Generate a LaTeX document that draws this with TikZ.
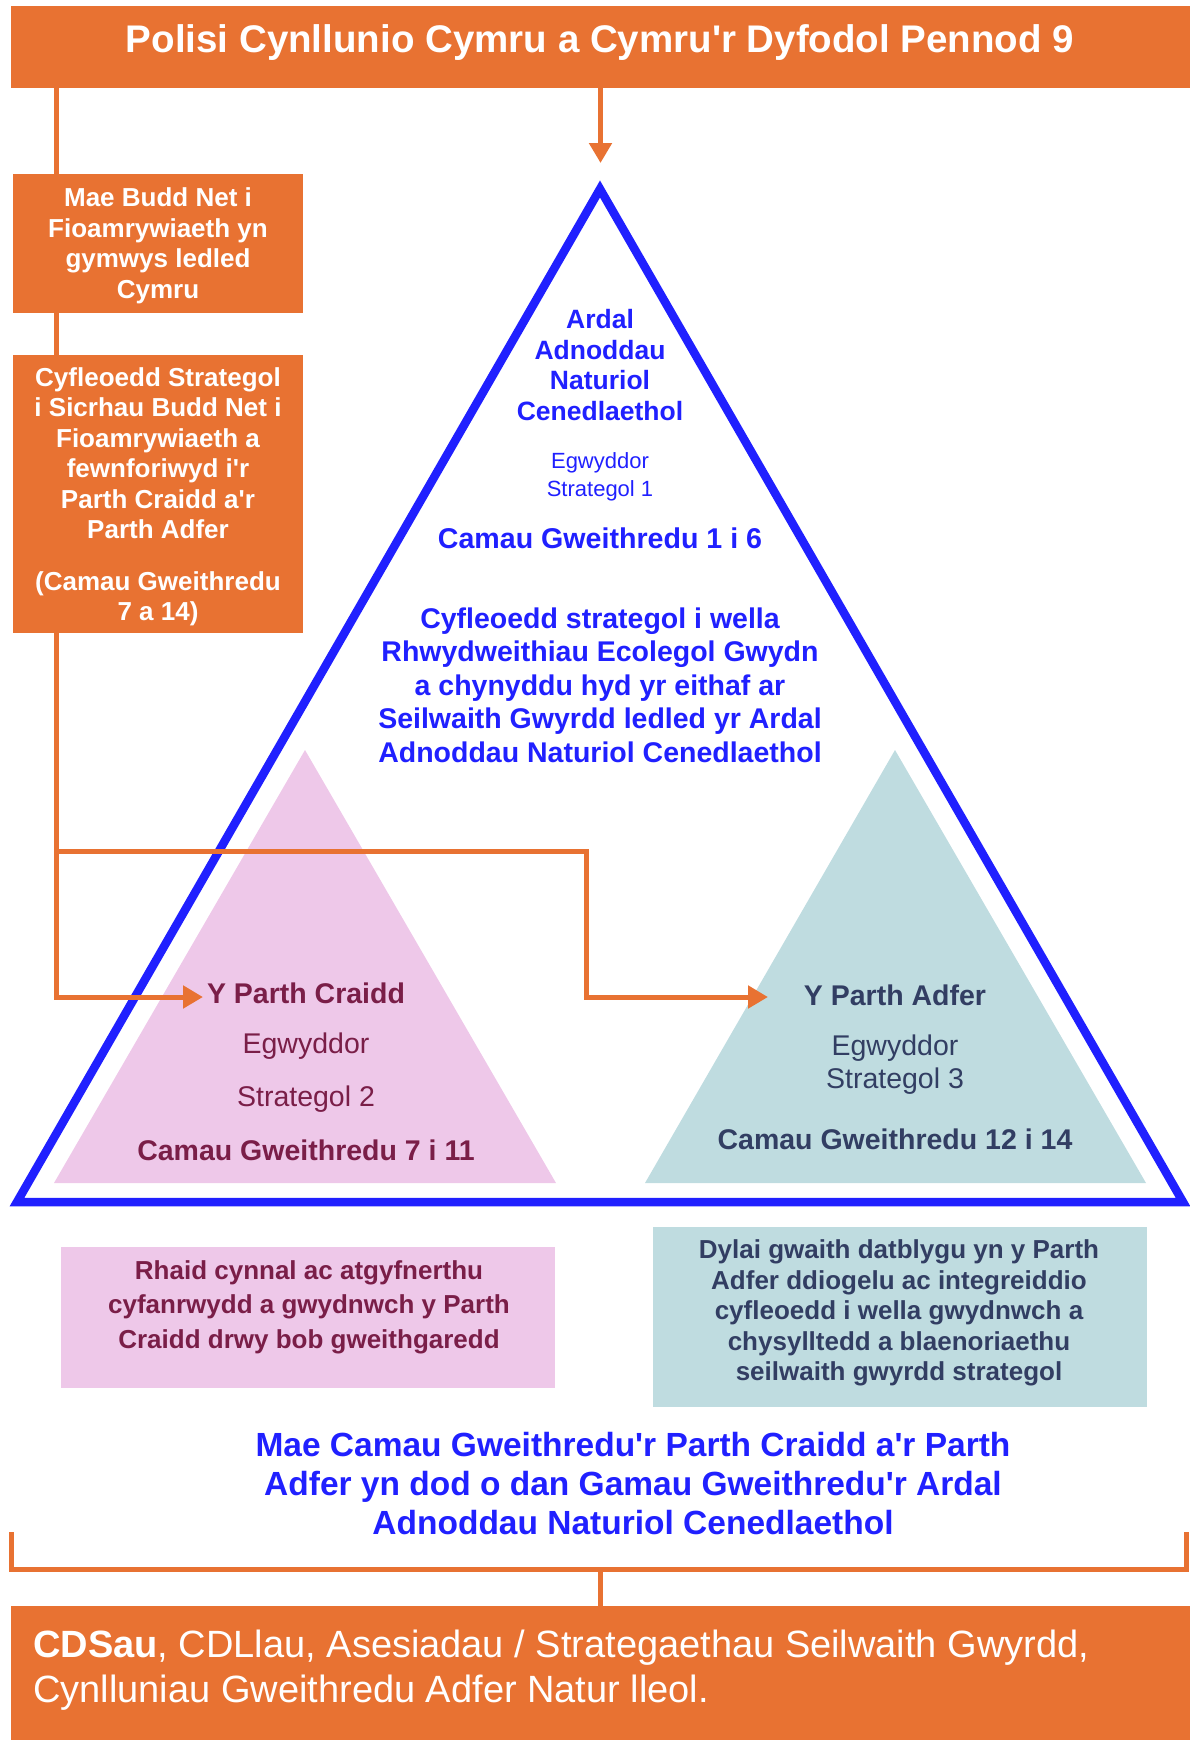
\documentclass[tikz,border=0pt]{standalone}
\usepackage{fontspec}
\setmainfont{Liberation Sans}
\usetikzlibrary{arrows.meta}
\definecolor{orng}{HTML}{E87232}
\definecolor{blu}{HTML}{2020FF}
\definecolor{pnk}{HTML}{EEC8E9}
\definecolor{tel}{HTML}{BFDCE0}
\definecolor{maroontxt}{HTML}{7A1E48}
\definecolor{slatetxt}{HTML}{323E63}
\newcommand{\ap}{\textquotesingle}
\begin{document}
\begin{tikzpicture}[x=1pt,y=-1pt,
  obox/.style={fill=orng, draw=none, inner sep=0pt},
  conn/.style={draw=orng, line width=5pt},
  arr/.style={conn, -{Triangle[length=20pt,width=22pt]}},
  wtxt/.style={text=white, align=center, inner sep=0pt, font=\bfseries\fontsize{26}{30.5}\selectfont},
  btxt/.style={text=blu, align=center, inner sep=0pt},
  ptxt/.style={text=maroontxt, align=center, inner sep=0pt},
  ttxt/.style={text=slatetxt, align=center, inner sep=0pt},
  bluetri/.style={draw=blu, line width=8.5pt, line join=miter}
]
\useasboundingbox (0,0) rectangle (1190,1740);

% big blue triangle
\coordinate (apex) at (600,189);
\coordinate (br) at (1183,1202);
\coordinate (bl) at (17,1202);
\draw[bluetri] (apex) -- (br) -- (bl) -- cycle;

% inner triangles
\coordinate (pA) at (305,750);
\coordinate (pL) at (54,1183);
\coordinate (pR) at (556,1183);
\fill[pnk] (pA) -- (pR) -- (pL) -- cycle;
\coordinate (tA) at (895,750);
\coordinate (tL) at (645,1183);
\coordinate (tR) at (1146,1183);
\fill[tel] (tA) -- (tR) -- (tL) -- cycle;

% top banner
\node[obox, minimum width=1179pt, minimum height=82pt] (top) at (600.5,47) {};
\node[text=white, inner sep=0pt, font=\bfseries\fontsize{38.5}{46}\selectfont] (toptxt) at (600,43) {Polisi Cynllunio Cymru a Cymru\ap r Dyfodol Pennod 9};

% connectors
\coordinate (apexTip) at (600.5,163);
\draw[arr] (top.south) -- (apexTip);
\coordinate (lstart) at (56,88);
\coordinate (cTip) at (203,997);
\draw[arr] (lstart) |- (cTip);
\coordinate (branch) at (56,851);
\coordinate (bend) at (586,997);
\coordinate (aTip) at (768,997);
\draw[arr] (branch) -| (bend) -- (aTip);

% left boxes
\node[obox, minimum width=290pt, minimum height=139pt] (box1) at (158,243.5) {};
\node[wtxt] (box1txt) at (158,246) {Mae Budd Net i\\Fioamrywiaeth yn\\gymwys ledled\\Cymru};
\node[obox, minimum width=290pt, minimum height=278pt] (box2) at (158,494) {};
\node[wtxt] (box2txt) at (158,497) {Cyfleoedd Strategol\\i Sicrhau Budd Net i\\Fioamrywiaeth a\\fewnforiwyd i\ap r\\Parth Craidd a\ap r\\Parth Adfer\\[21pt](Camau Gweithredu\\7 a 14)};

% text in big triangle
\node[btxt, font=\bfseries\fontsize{26.5}{30.7}\selectfont] (ardal) at (600,365) {Ardal\\Adnoddau\\Naturiol\\Cenedlaethol};
\node[btxt, font=\fontsize{22}{28}\selectfont] (egw1) at (600,477) {Egwyddor\\Strategol 1};
\node[btxt, font=\bfseries\fontsize{28.6}{33}\selectfont] (cam1) at (600,538) {Camau Gweithredu 1 i 6};
\node[btxt, font=\bfseries\fontsize{28.5}{33.5}\selectfont] (cyfle) at (600,685) {Cyfleoedd strategol i wella\\Rhwydweithiau Ecolegol Gwydn\\a chynyddu hyd yr eithaf ar\\Seilwaith Gwyrdd ledled yr Ardal\\Adnoddau Naturiol Cenedlaethol};

% pink triangle text
\node[ptxt, font=\bfseries\fontsize{28.5}{33}\selectfont] (pcraidd) at (306,993) {Y Parth Craidd};
\node[ptxt, font=\fontsize{28.5}{33}\selectfont] (pegw) at (306,1046) {Egwyddor};
\node[ptxt, font=\fontsize{28.5}{33}\selectfont] (pstrat) at (306,1099) {Strategol 2};
\node[ptxt, font=\bfseries\fontsize{28.5}{33}\selectfont] (pcam) at (306,1150) {Camau Gweithredu 7 i 11};

% teal triangle text
\node[ttxt, font=\bfseries\fontsize{28.5}{33}\selectfont] (tadfer) at (895,995) {Y Parth Adfer};
\node[ttxt, font=\fontsize{28.5}{33}\selectfont] (tegw) at (895,1065) {Egwyddor\\Strategol 3};
\node[ttxt, font=\bfseries\fontsize{28.5}{33}\selectfont] (tcam) at (895,1139) {Camau Gweithredu 12 i 14};

% lower boxes
\node[fill=pnk, inner sep=0pt, minimum width=494pt, minimum height=141pt] (pbox) at (308,1317.5) {};
\node[ptxt, font=\bfseries\fontsize{26}{34.5}\selectfont] (pboxtxt) at (309,1307) {Rhaid cynnal ac atgyfnerthu\\cyfanrwydd a gwydnwch y Parth\\Craidd drwy bob gweithgaredd};
\node[fill=tel, inner sep=0pt, minimum width=494pt, minimum height=180pt] (tbox) at (900,1317) {};
\node[ttxt, font=\bfseries\fontsize{26}{30.5}\selectfont] (tboxtxt) at (899,1313) {Dylai gwaith datblygu yn y Parth\\Adfer ddiogelu ac integreiddio\\cyfleoedd i wella gwydnwch a\\chysylltedd a blaenoriaethu\\seilwaith gwyrdd strategol};

% blue summary text
\node[btxt, font=\bfseries\fontsize{33.5}{39}\selectfont] (summary) at (633,1484) {Mae Camau Gweithredu\ap r Parth Craidd a\ap r Parth\\Adfer yn dod o dan Gamau Gweithredu\ap r Ardal\\Adnoddau Naturiol Cenedlaethol};

% bottom bracket and box
\node[obox, minimum width=1179pt, minimum height=134pt] (bot) at (600.5,1673) {};
\coordinate (bkL) at (11,1532);
\coordinate (bkLb) at (11,1569);
\coordinate (bkRb) at (1186,1569);
\coordinate (bkR) at (1186,1532);
\draw[conn] (bkL) -- (bkLb) -- (bkRb) -- (bkR);
\draw[conn] (bot.north |- bkLb) -- (bot.north);
\node[text=white, anchor=west, align=left, inner sep=0pt, font=\fontsize{38}{45}\selectfont] (bottxt) at (33,1670) {\textbf{CDSau}, CDLlau, Asesiadau / Strategaethau Seilwaith Gwyrdd,\\Cynlluniau Gweithredu Adfer Natur lleol.};
\end{tikzpicture}
\end{document}
